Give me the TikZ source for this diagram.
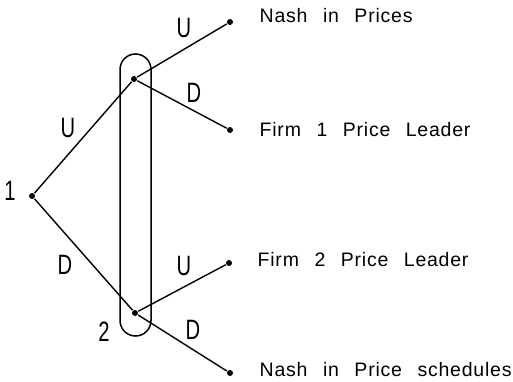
\documentclass[tikz,border=0pt]{standalone}
\usepackage{fontspec}
\usepackage{graphicx}
\setmainfont{Liberation Sans}
\newfontfamily\plotfont[LetterSpace=4,WordSpace=2.5]{Liberation Sans}
\begin{document}
\begin{tikzpicture}[x=1pt,y=-1pt,line width=1.4pt,
  dot/.style={circle,fill=black,inner sep=0pt,minimum size=6pt},
  edgelab/.style={inner sep=0pt,font=\fontsize{28}{28}\selectfont},
  outcome/.style={anchor=base west,inner sep=0pt,font=\fontsize{19.5}{19.5}\plotfont}]
\useasboundingbox (0,0) rectangle (513,382);
% information set
\node[draw,line width=1.5pt,rounded corners=15.5pt,minimum width=31pt,minimum height=282pt,inner sep=0pt] (info) at (135.5,195) {};
% decision nodes
\node[dot] (n1) at (32,196) {};
\node[dot] (a) at (134,79) {};
\node[dot] (b) at (135,313) {};
% terminal nodes
\node[dot] (t1) at (230,22) {};
\node[dot] (t2) at (230,130) {};
\node[dot] (t3) at (229,263) {};
\node[dot] (t4) at (230,373) {};
% edges
\draw (n1) -- (a);
\draw (n1) -- (b);
\draw (a) -- (t1);
\draw (a) -- (t2);
\draw (b) -- (t3);
\draw (b) -- (t4);
% player labels
\node[edgelab] (l1) at (10,191) {\scalebox{0.72}[1]{1}};
\node[edgelab] (l2) at (104,332) {\scalebox{0.72}[1]{2}};
% action labels
\node[edgelab] (u1) at (68,128) {\scalebox{0.72}[1]{U}};
\node[edgelab] (d1) at (65,265) {\scalebox{0.72}[1]{D}};
\node[edgelab] (u2) at (184,28) {\scalebox{0.72}[1]{U}};
\node[edgelab] (d2) at (194,93) {\scalebox{0.72}[1]{D}};
\node[edgelab] (u3) at (184,266) {\scalebox{0.72}[1]{U}};
\node[edgelab] (d3) at (193,330) {\scalebox{0.72}[1]{D}};
% outcomes
\node[outcome] (o1) at (259,23) {Nash in Prices};
\node[outcome] (o2) at (259,136.5) {Firm 1 Price Leader};
\node[outcome] (o3) at (257,266.5) {Firm 2 Price Leader};
\node[outcome] (o4) at (259,376) {Nash in Price schedules};
\end{tikzpicture}
\end{document}
